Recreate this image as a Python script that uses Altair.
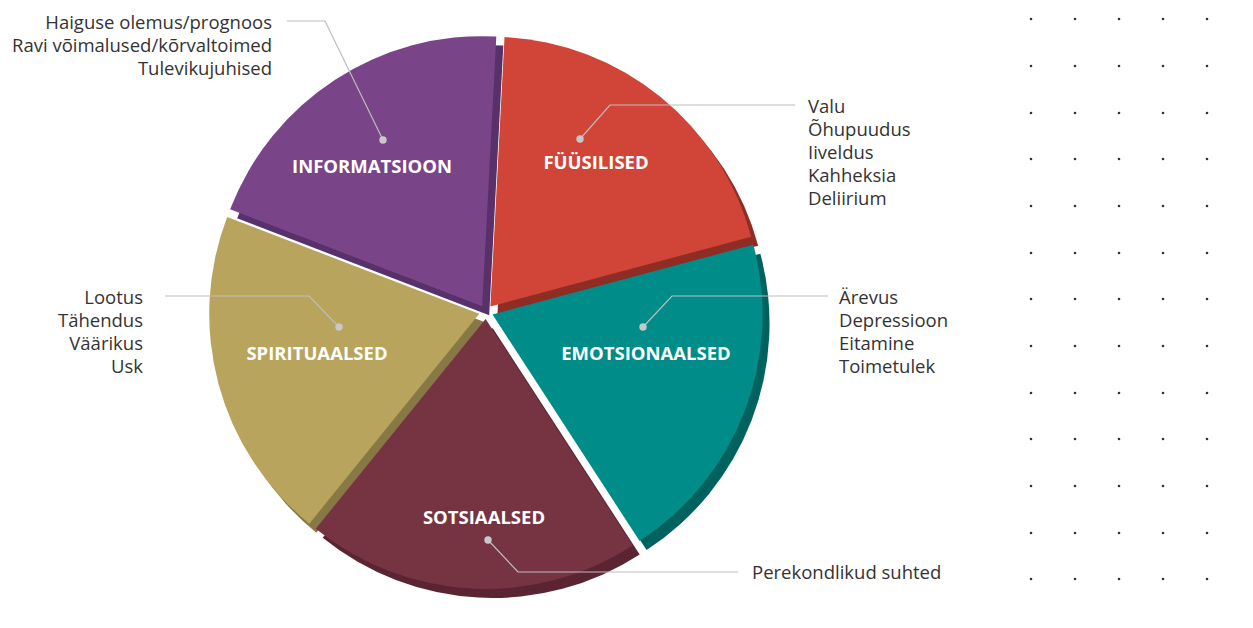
import math
import altair as alt
import pandas as pd

# ---------------- data ----------------
categories = ["FÜÜSILISED", "EMOTSIONAALSED", "SOTSIAALSED", "SPIRITUAALSED", "INFORMATSIOON"]
shares = [1, 1, 1, 1, 1]
items = {
    "FÜÜSILISED": ["Valu", "Õhupuudus", "Iiveldus", "Kahheksia", "Deliirium"],
    "EMOTSIONAALSED": ["Ärevus", "Depressioon", "Eitamine", "Toimetulek"],
    "SOTSIAALSED": ["Perekondlikud suhted"],
    "SPIRITUAALSED": ["Lootus", "Tähendus", "Väärikus", "Usk"],
    "INFORMATSIOON": ["Haiguse olemus/prognoos", "Ravi võimalused/kõrvaltoimed", "Tulevikujuhised"],
}

# ---------------- styles / layout (image pixels) ----------------
fill_colors = ["#D04537", "#008C89", "#763342", "#B8A45C", "#7A4489"]
shadow_colors = ["#8F2D24", "#00625F", "#5A2432", "#877846", "#58306A"]
CX, CY = 486, 312
RADIUS = 270
EXPLODE = 7
SHADOW_DX, SHADOW_DY = 7, 9
START = math.radians(3)
FONT = "Open Sans"

label_pos = {
    "FÜÜSILISED": (596, 163),
    "EMOTSIONAALSED": (646, 354),
    "SOTSIAALSED": (484, 518),
    "SPIRITUAALSED": (317, 354),
    "INFORMATSIOON": (372, 167),
}
# leader: dot, elbow, end
leaders = {
    "FÜÜSILISED": [(580, 139), (610, 105), (795, 105)],
    "EMOTSIONAALSED": [(643, 327), (672, 296), (828, 296)],
    "SOTSIAALSED": [(488, 540), (518, 572), (738, 572)],
    "SPIRITUAALSED": [(339, 327), (309, 296), (165, 296)],
    "INFORMATSIOON": [(383, 140), (325, 21), (287, 21)],
}
text_anchor = {
    "FÜÜSILISED": (808, 107, "left"),
    "EMOTSIONAALSED": (839, 298, "left"),
    "SOTSIAALSED": (752, 573, "left"),
    "SPIRITUAALSED": (143, 298, "right"),
    "INFORMATSIOON": (272, 23, "right"),
}
LINE_H = 23
grid_x = [1031, 1075, 1119, 1163, 1207, 1251]
grid_y = [19, 66, 113, 159, 206, 253, 299, 346, 393, 439, 486, 533, 579, 626]

W, H, M = 1237, 612, 8
XS = alt.Scale(domain=[M, W + M], range=[0, W])
YS = alt.Scale(domain=[M, H + M], range=[0, H])

# ---------------- tables ----------------
pie_df = pd.DataFrame({
    "category": categories,
    "share": shares,
    "order": list(range(len(categories))),
    "fill": fill_colors,
    "shadow": shadow_colors,
})

base_pie = (
    alt.Chart(pie_df)
    .transform_joinaggregate(total="sum(share)")
    .transform_window(cum="sum(share)", sort=[alt.SortField("order")])
    .transform_calculate(
        f1="datum.cum / datum.total",
        f0="(datum.cum - datum.share) / datum.total",
    )
    .transform_calculate(mid=f"{START} + (datum.f0 + datum.f1) * PI")
    .transform_calculate(
        px=f"{CX} + {EXPLODE} * sin(datum.mid)",
        py=f"{CY} - {EXPLODE} * cos(datum.mid)",
    )
    .transform_calculate(
        sx=f"datum.px + {SHADOW_DX}",
        sy=f"datum.py + {SHADOW_DY}",
    )
)
theta_scale = alt.Scale(domain=[0, 1], range=[START, START + 2 * math.pi])

shadow = base_pie.mark_arc(radius=RADIUS).encode(
    x=alt.X("sx:Q", scale=XS, axis=None),
    y=alt.Y("sy:Q", scale=YS, axis=None),
    theta=alt.Theta("f0:Q", scale=theta_scale, stack=None),
    theta2="f1:Q",
    color=alt.Color("shadow:N", scale=None),
)
slices = base_pie.mark_arc(radius=RADIUS).encode(
    x=alt.X("px:Q", scale=XS, axis=None),
    y=alt.Y("py:Q", scale=YS, axis=None),
    theta=alt.Theta("f0:Q", scale=theta_scale, stack=None),
    theta2="f1:Q",
    color=alt.Color("fill:N", scale=None),
)

lab_df = pd.DataFrame({
    "category": categories,
    "lx": [label_pos[c][0] for c in categories],
    "ly": [label_pos[c][1] for c in categories],
})
labels = alt.Chart(lab_df).mark_text(
    font=FONT, fontSize=18.5, fontWeight="bold", color="white", baseline="middle", align="center"
).encode(
    x=alt.X("lx:Q", scale=XS, axis=None),
    y=alt.Y("ly:Q", scale=YS, axis=None),
    text="category:N",
)

line_rows = []
dot_rows = []
for c in categories:
    pts = leaders[c]
    for i, (x, y) in enumerate(pts):
        line_rows.append({"grp": c, "seq": i, "lx": x, "ly": y})
    dot_rows.append({"grp": c, "lx": pts[0][0], "ly": pts[0][1]})
line_df = pd.DataFrame(line_rows)
dot_df = pd.DataFrame(dot_rows)

leader_lines = alt.Chart(line_df).mark_line(color="#BDBDBD", strokeWidth=1.2).encode(
    x=alt.X("lx:Q", scale=XS, axis=None),
    y=alt.Y("ly:Q", scale=YS, axis=None),
    detail="grp:N",
    order="seq:Q",
)
leader_dots = alt.Chart(dot_df).mark_circle(color="#C8C8C8", opacity=1, size=55).encode(
    x=alt.X("lx:Q", scale=XS, axis=None),
    y=alt.Y("ly:Q", scale=YS, axis=None),
)

text_rows = []
for c in categories:
    x0, y0, al = text_anchor[c]
    for i, t in enumerate(items[c]):
        text_rows.append({"txt": t, "tx": x0, "ty": y0 + i * LINE_H, "al": al})
text_df = pd.DataFrame(text_rows)

def item_layer(align):
    return alt.Chart(text_df[text_df["al"] == align]).mark_text(
        font=FONT, fontSize=18.5, color="#333333", align=align, baseline="middle"
    ).encode(
        x=alt.X("tx:Q", scale=XS, axis=None),
        y=alt.Y("ty:Q", scale=YS, axis=None),
        text="txt:N",
    )

grid_df = pd.DataFrame([{"gx": gx, "gy": gy} for gy in grid_y for gx in grid_x])
grid = alt.Chart(grid_df).mark_circle(color="#333333", opacity=1, size=7, clip=False).encode(
    x=alt.X("gx:Q", scale=XS, axis=None),
    y=alt.Y("gy:Q", scale=YS, axis=None),
)

chart = alt.layer(
    grid, shadow, slices, labels, leader_lines, leader_dots, item_layer("left"), item_layer("right")
).properties(
    width=W, height=H, autosize="none", padding=0,
).configure_view(stroke=None)

chart.save("out.html", embed_options={"renderer": "svg", "actions": False})
